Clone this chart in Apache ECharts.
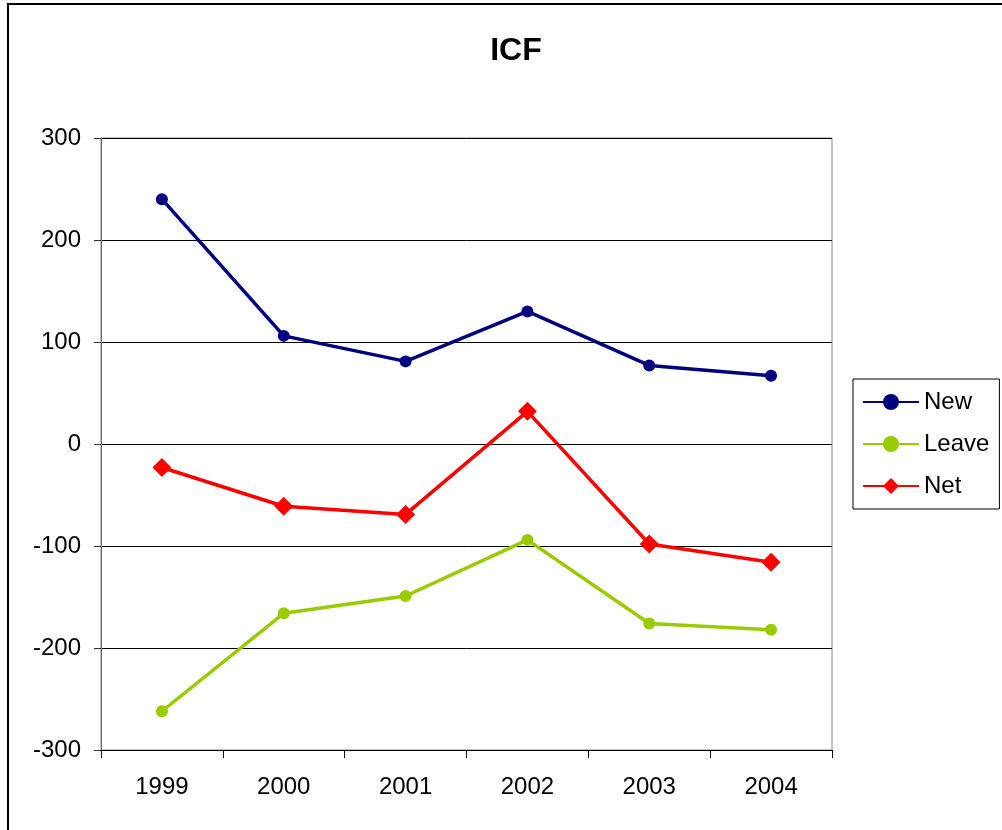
<!DOCTYPE html>
<html>
<head>
<meta charset="utf-8">
<script src="https://cdn.jsdelivr.net/npm/echarts@6/dist/echarts.min.js"></script>
<style>
  html, body { margin: 0; padding: 0; background: #fff; }
</style>
</head>
<body>
<div id="chart" style="width: 1002px; height: 830px"></div>
<script>
const years = ["1999", "2000", "2001", "2002", "2003", "2004"];
const newData = [240, 106, 81, 130, 77, 67];
const leaveData = [-262, -166, -149, -94, -176, -182];
const netData = [-23, -61, -69, 32, -98, -116];

const font = "Liberation Sans, Arial, sans-serif";
const myChart = echarts.init(document.getElementById("chart"));

const option = {
  animation: false,
  backgroundColor: "#fff",
  title: {
    text: "ICF",
    left: 511,
    top: 30,
    textAlign: "center",
    textStyle: { fontFamily: font, fontSize: 32, fontWeight: "bold", color: "#000" },
  },
  graphic: [
    {
      type: "rect",
      shape: { x: 8, y: 4, width: 1100, height: 900 },
      style: { fill: "none", stroke: "#000", lineWidth: 2 },
      silent: true,
    },
  ],
  legend: {
    orient: "vertical",
    left: 853,
    top: 379,
    padding: [11, 10, 11, 9],
    itemGap: 18,
    itemWidth: 56,
    itemHeight: 20,
    borderColor: "#000",
    borderWidth: 1,
    textStyle: { fontFamily: font, fontSize: 24, color: "#000" },
    data: ["New", "Leave", "Net"],
  },
  grid: {
    left: 101,
    top: 138,
    right: 170,
    bottom: 80,
    show: true,
    borderColor: "#888",
    borderWidth: 1,
  },
  xAxis: {
    type: "category",
    data: years,
    boundaryGap: true,
    axisLine: { onZero: false, lineStyle: { color: "#000", width: 1 } },
    axisTick: { show: true, length: 8, lineStyle: { color: "#000" } },
    axisLabel: { fontFamily: font, fontSize: 24, color: "#000", margin: 25 },
  },
  yAxis: {
    type: "value",
    min: -300,
    max: 300,
    interval: 100,
    axisLine: { show: true, lineStyle: { color: "#666", width: 1 } },
    axisTick: { show: true, length: 7, lineStyle: { color: "#333" } },
    axisLabel: { fontFamily: font, fontSize: 24, color: "#000", margin: 20 },
    splitLine: { show: true, lineStyle: { color: "#000", width: 1 } },
  },
  series: [
    {
      name: "New",
      type: "line",
      data: newData,
      symbol: "circle",
      symbolSize: 12,
      color: "#000080",
      lineStyle: { width: 3.5, color: "#000080" },
      itemStyle: { color: "#000080" },
    },
    {
      name: "Leave",
      type: "line",
      data: leaveData,
      symbol: "circle",
      symbolSize: 12,
      color: "#99cc00",
      lineStyle: { width: 3.5, color: "#99cc00" },
      itemStyle: { color: "#99cc00" },
    },
    {
      name: "Net",
      type: "line",
      data: netData,
      symbol: "diamond",
      symbolSize: 19,
      color: "#ff0000",
      lineStyle: { width: 3.5, color: "#ff0000" },
      itemStyle: { color: "#ff0000" },
    },
  ],
};

myChart.setOption(option);
</script>
</body>
</html>
